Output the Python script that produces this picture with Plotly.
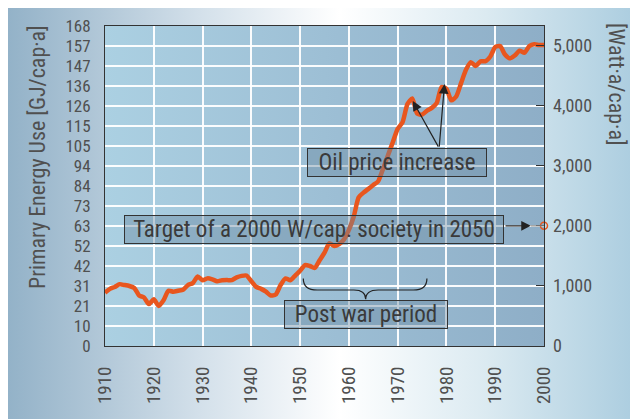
import base64
import plotly.graph_objects as go

# ---------------- data ----------------
years = list(range(1910, 2001))
energy_gj = [
    28, 30, 31, 32.4, 32, 31.5, 30.5, 26.5, 25.5, 22,          # 1910-1919
    24.5, 21, 24, 29, 28.5, 29, 29.5, 32, 33, 36.5,            # 1920-1929
    34.5, 35.5, 35, 34, 34.5, 34.6, 34.6, 36, 36.8, 37,        # 1930-1939
    34, 31, 30, 28.5, 26.5, 27, 32, 35.5, 34.5, 37,            # 1940-1949
    39.5, 42.5, 42, 41, 45, 49, 54, 52.5, 53.5, 56,            # 1950-1959
    61, 68, 78, 80.5, 82.5, 84.5, 86.5, 93, 100, 107,          # 1960-1969
    114, 117.5, 127, 130, 122, 121.5, 123.5, 125, 127.5, 136,  # 1970-1979
    135, 129, 131, 138, 145, 149, 147, 149.5, 149.5, 152,      # 1980-1989
    157, 157.5, 153, 151, 152.5, 155, 154, 157.5, 158.4, 158,  # 1990-1999
    158,                                                       # 2000
]

gj_tickvals = [10.5 * i for i in range(17)]
gj_ticktext = ["0", "10", "21", "31", "42", "52", "63", "73", "84", "94",
               "105", "115", "126", "136", "147", "157", "168"]
watt_tickvals = [0, 1000, 2000, 3000, 4000, 5000]
watt_ticktext = ["0", "1,000", "2,000", "3,000", "4,000", "5,000"]
year_ticks = list(range(1910, 2001, 10))

GJ_PER_WATT_YEAR = 0.031536
target_watt = 2000
target_gj = target_watt * GJ_PER_WATT_YEAR
gj_max = 168

# ---------------- style ----------------
FONT = "Liberation Sans Narrow, Roboto Condensed, Arial Narrow, Roboto, sans-serif"
ORANGE = "#e8561e"
TXT = "#3a3a3a"
TICK = "#505050"


def svg_uri(stops):
    st = "".join(f'<stop offset="{o}" stop-color="{c}"/>' for o, c in stops)
    svg = ('<svg xmlns="http://www.w3.org/2000/svg" width="100" height="100" preserveAspectRatio="none">'
           f'<defs><linearGradient id="g" x1="0" y1="0" x2="1" y2="0">{st}</linearGradient></defs>'
           '<rect width="100" height="100" fill="url(#g)"/></svg>')
    return "data:image/svg+xml;base64," + base64.b64encode(svg.encode()).decode()


outer_bg = svg_uri([(0, "#93b2c8"), (0.13, "#aec5d6"), (0.3, "#d3e0ea"),
                    (0.52, "#ffffff"), (0.75, "#dbeaf1"), (1, "#a8cbde")])
plot_bg = svg_uri([(0, "#abd0e2"), (0.5, "#9dbfd5"), (1, "#8eaec7")])

fig = go.Figure()

fig.add_trace(go.Scatter(
    x=years, y=energy_gj, mode="lines",
    line=dict(color=ORANGE, width=4.5, shape="spline", smoothing=0.6),
    hoverinfo="skip", showlegend=False))

# target marker on the right axis
fig.add_trace(go.Scatter(
    x=[2000], y=[target_watt], yaxis="y2", mode="markers",
    marker=dict(symbol="circle-open", size=7, color=ORANGE, line=dict(width=1.5)),
    cliponaxis=False, hoverinfo="skip", showlegend=False))

# ---------------- layout ----------------
W, H = 638, 419
L, R, T, B = 97, 102, 18, 81
pw, ph = W - L - R, H - T - B
# page-pixel plot-area origin (figure is offset by the page margin)
PX0, PY0 = 105, 26


def px(x):
    return (x - PX0) / pw


def py(y):
    return (PY0 + ph - y) / ph


fig.update_layout(
    width=W, height=H,
    margin=dict(l=L, r=R, t=T, b=B, autoexpand=False),
    paper_bgcolor="white",
    plot_bgcolor="rgba(0,0,0,0)",
    font=dict(family=FONT, color=TICK, size=17),
    xaxis=dict(range=[1910, 2000], tickvals=year_ticks, tickangle=-90,
               showgrid=True, gridcolor="rgba(255,255,255,0.95)", gridwidth=1.5,
               showline=True, mirror=True, linecolor="#333", linewidth=1,
               ticks="", ticklabelstandoff=12, zeroline=False, automargin=False,
               tickfont=dict(size=19, color=TICK)),
    yaxis=dict(range=[0, gj_max], tickvals=gj_tickvals, ticktext=gj_ticktext,
               showgrid=True, gridcolor="rgba(255,255,255,0.95)", gridwidth=1.5,
               showline=True, mirror=True, linecolor="#333", linewidth=1,
               ticks="", ticklabelstandoff=10, zeroline=False, automargin=False,
               tickfont=dict(size=17, color=TICK)),
    yaxis2=dict(range=[0, gj_max / GJ_PER_WATT_YEAR], overlaying="y", side="right",
                tickvals=watt_tickvals, ticktext=watt_ticktext,
                showgrid=False, zeroline=False, ticks="inside", ticklen=8,
                tickcolor="#333", tickwidth=1, ticklabelstandoff=8, automargin=False,
                tickfont=dict(size=18, color=TICK)),
    images=[
        dict(source=outer_bg, xref="paper", yref="paper",
             x=-L / pw, y=(H - B) / ph, sizex=W / pw, sizey=H / ph,
             xanchor="left", yanchor="top", sizing="stretch", layer="below"),
        dict(source=plot_bg, xref="paper", yref="paper",
             x=0, y=1, sizex=1, sizey=1,
             xanchor="left", yanchor="top", sizing="stretch", layer="below"),
    ],
)

# axis titles
fig.add_annotation(text="Primary Energy Use [GJ/cap·a]", textangle=-90,
                   xref="paper", yref="paper", x=px(37), y=py(157),
                   xanchor="center", yanchor="middle", showarrow=False,
                   font=dict(size=22, color=TICK, family=FONT))
fig.add_annotation(text="[Watt·a/cap·a]", textangle=90,
                   xref="paper", yref="paper", x=px(617), y=py(84),
                   xanchor="center", yanchor="middle", showarrow=False,
                   font=dict(size=22, color=TICK, family=FONT))

BOX = dict(bgcolor="rgba(105,135,160,0.42)", bordercolor="#333", borderwidth=1,
           borderpad=0, showarrow=False, font=dict(size=23, color=TXT, family=FONT))

# arrows: oil price increase
for hx, hy in [(1973.1, 128.6), (1979.6, 137.5)]:
    fig.add_annotation(x=hx, y=hy, ax=1978.5, ay=103.9, xref="x", yref="y",
                       axref="x", ayref="y", text="", showarrow=True,
                       arrowhead=2, arrowsize=1.6, arrowwidth=1.2, arrowcolor="#222")

# target arrow and connector
fig.add_shape(type="line", xref="x", yref="y", x0=1997.3, x1=2000,
              y0=target_gj, y1=target_gj, line=dict(color="#8a8a8a", width=1.2))
fig.add_annotation(x=1997.3, y=target_gj, ax=1991.8, ay=target_gj, xref="x", yref="y",
                   axref="x", ayref="y", text="", showarrow=True,
                   arrowhead=2, arrowsize=1.6, arrowwidth=1.2, arrowcolor="#222")

# brace for post war period
fig.add_shape(type="path", xref="x", yref="y",
              path=("M 1950.65,35.5 Q 1950.65,29.4 1953.5,29.4 L 1961,29.4 "
                    "Q 1963.45,29.4 1963.45,24.5 Q 1963.45,29.4 1966,29.4 "
                    "L 1973.2,29.4 Q 1976,29.4 1976,35.5"),
              line=dict(color="#222", width=1.2))

# text boxes
fig.add_annotation(text="Target of a 2000 W/cap. society in 2050", x=1952.85, y=61.4,
                   xref="x", yref="y", width=378, height=27, **BOX)
fig.add_annotation(text="Oil price increase", x=1969.9, y=96.3,
                   xref="x", yref="y", width=178, height=27, **BOX)
fig.add_annotation(text="Post war period", x=1963.5, y=16.3,
                   xref="x", yref="y", width=162, height=27, **BOX)

fig.write_html("out.html")
